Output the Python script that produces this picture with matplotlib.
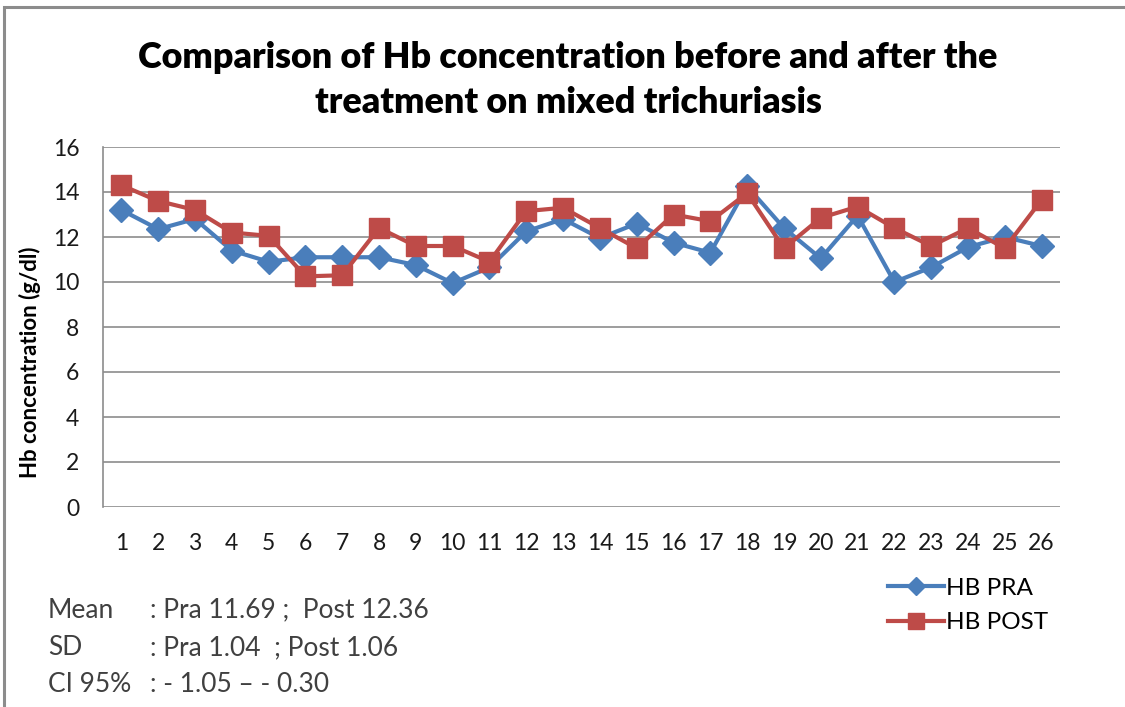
import matplotlib.pyplot as plt
from matplotlib.patches import Rectangle

# Hb values, per patient (1..26)
patients = list(range(1, 27))
hb_pra = [13.2, 12.35, 12.8, 11.4, 10.9, 11.1, 11.1, 11.1, 10.75, 9.95, 10.65, 12.25, 12.8,
          11.95, 12.6, 11.75, 11.3, 14.25, 12.4, 11.05, 12.95, 10.0, 10.65, 11.55, 12.0, 11.6]
hb_post = [14.3, 13.6, 13.2, 12.2, 12.05, 10.25, 10.3, 12.4, 11.6, 11.6, 10.9, 13.15, 13.3,
           12.4, 11.5, 13.0, 12.7, 13.95, 11.5, 12.85, 13.35, 12.4, 11.6, 12.4, 11.5, 13.65]
yticks = [0, 2, 4, 6, 8, 10, 12, 14, 16]

stat_names = ["Mean", "SD", "CI 95%"]
stat_values = [": Pra 11.69 ;  Post 12.36", ": Pra 1.04  ; Post 1.06", ": - 1.05 \u2013 - 0.30"]

title = "Comparison of Hb concentration before and after the\ntreatment on mixed trichuriasis"

plt.rcParams['font.family'] = ['Lato', 'DejaVu Sans']

W, H = 1125, 707
fig = plt.figure(figsize=(W / 100, H / 100), dpi=100)

# outer chart frame (top + left visible)
fig.patches.append(Rectangle((4 / W, -0.1), 1.2, (H - 7) / H + 0.1, transform=fig.transFigure,
                             fill=False, edgecolor="#8c8c8c", linewidth=2.2))

ax = fig.add_axes([103 / W, (H - 507) / H, (1060 - 103) / W, 360 / H])

blue = "#4a7ebb"
red = "#be4b48"
ax.plot(patients, hb_pra, color=blue, lw=3.0, marker="D", ms=12.5, label="HB PRA", zorder=3)
ax.plot(patients, hb_post, color=red, lw=3.0, marker="s", ms=15, label="HB POST", zorder=4)

ax.set_xlim(0.5, 26.5)
ax.set_ylim(0, 16)
ax.set_yticks(yticks)
ax.set_xticks(patients)
ax.yaxis.grid(True, color="#8c8c8c", lw=1.2)
ax.set_axisbelow(True)
for s in ["top", "right", "bottom"]:
    ax.spines[s].set_visible(False)
ax.spines["left"].set_color("#8c8c8c")
ax.spines["left"].set_linewidth(1.2)
ax.tick_params(axis="both", length=0, labelsize=16.5, labelcolor="#1a1a1a")
ax.tick_params(axis="y", pad=17)
ax.tick_params(axis="x", pad=19)

fig.text(568 / W, 1 - 80 / H, title, ha="center", va="center", fontsize=25.8,
         fontweight="heavy", linespacing=1.42)
fig.text(30 / W, 1 - 362 / H, "Hb concentration (g/dl)", rotation=90, ha="center",
         va="center", fontsize=16, fontweight="bold")

for i, (nm, val) in enumerate(zip(stat_names, stat_values)):
    y = 1 - (610 + i * 37.5) / H
    fig.text(48 / W, y, nm, ha="left", va="center", fontsize=19, color="#404040")
    fig.text(150 / W, y, val, ha="left", va="center", fontsize=19, color="#404040")

leg = ax.legend(loc="upper left", bbox_to_anchor=(866 / W, 1 - 556 / H),
                bbox_transform=fig.transFigure, frameon=False, fontsize=17.5,
                handlelength=2.3, handletextpad=0.1, labelspacing=0.55, markerscale=0.75)

fig.savefig("out.png", dpi=100)
